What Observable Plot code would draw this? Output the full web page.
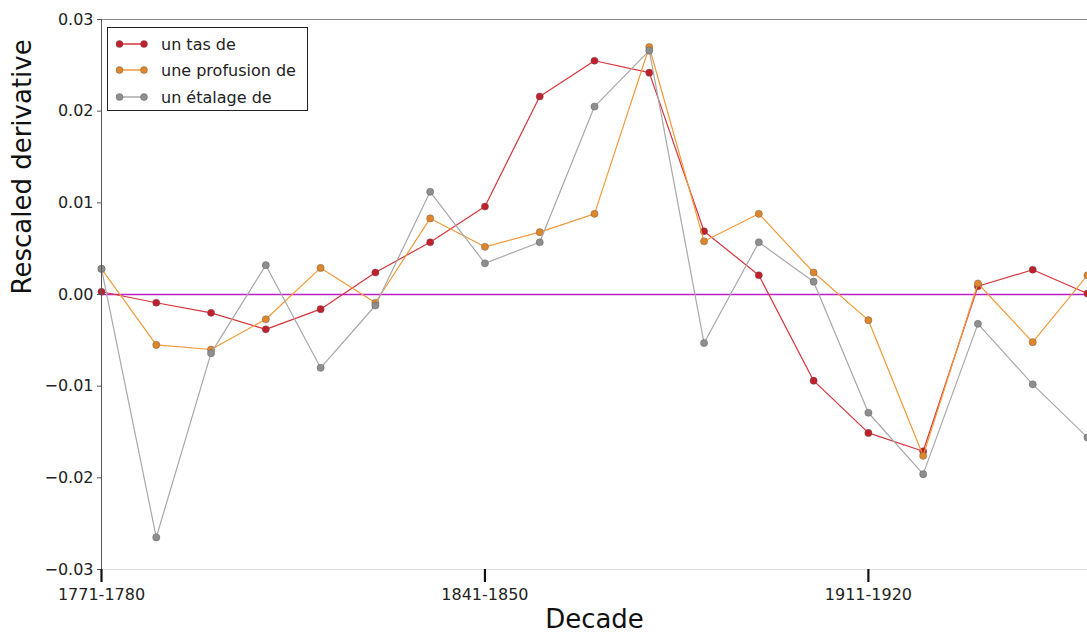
<!DOCTYPE html>
<html>
<head>
<meta charset="utf-8">
<script src="https://cdn.jsdelivr.net/npm/d3@7"></script>
<script src="https://cdn.jsdelivr.net/npm/@observablehq/plot@0.6"></script>
<style>
  html, body { margin: 0; padding: 0; background: #fff; }
  #wrap { position: relative; width: 1087px; height: 636px; overflow: hidden; }
  #legend { position: absolute; left: 107px; top: 27px; width: 199px; height: 82px;
            border: 1px solid #222; background: #fff; font-family: "DejaVu Sans"; font-size: 16px; color: #222; }
  #legend .row { position: absolute; left: 0; height: 20px; display: flex; align-items: center; }
  #legend svg { margin-left: 8px; }
  #legend span { margin-left: 13px; }
</style>
</head>
<body>
<div id="wrap"><div id="legend"></div></div>
<script>
const decades = ["1771-1780","1781-1790","1791-1800","1801-1810","1811-1820","1821-1830","1831-1840",
  "1841-1850","1851-1860","1861-1870","1871-1880","1881-1890","1891-1900","1901-1910","1911-1920",
  "1921-1930","1931-1940","1941-1950","1951-1960"];
const xTickLabels = ["1771-1780","1841-1850","1911-1920"];
const yTicks = [-0.03,-0.02,-0.01,0,0.01,0.02,0.03];

const seriesNames = ["un tas de","une profusion de","un étalage de"];
const lineColors = ["#d8343c","#f39a3a","#a8a8a8"];
const dotColors = ["#c0202c","#e0862a","#8e8e8e"];

const tasDe = [0.0003,-0.0009,-0.0020,-0.0038,-0.0016,0.0024,0.0057,0.0096,0.0216,0.0255,0.0242,
  0.0069,0.0021,-0.0094,-0.0151,-0.0171,0.0009,0.0027,0.0001];
const profusionDe = [0.0028,-0.0055,-0.0060,-0.0027,0.0029,-0.0009,0.0083,0.0052,0.0068,0.0088,0.0270,
  0.0058,0.0088,0.0024,-0.0028,-0.0176,0.0012,-0.0052,0.0021];
const etalageDe = [0.0028,-0.0265,-0.0064,0.0032,-0.0080,-0.0012,0.0112,0.0034,0.0057,0.0205,0.0266,
  -0.0053,0.0057,0.0014,-0.0129,-0.0196,-0.0032,-0.0098,-0.0156];

const allSeries = [tasDe, profusionDe, etalageDe];
const rows = [];
allSeries.forEach((vals, s) => vals.forEach((v, i) => rows.push({decade: decades[i], value: v, series: seriesNames[s]})));

const marks = [
  Plot.frame({anchor: "bottom", stroke: "#dddddd"}),
  Plot.frame({anchor: "top", stroke: "#8a8a8a"}),
  Plot.ruleY([0], {stroke: "#bb22c4", strokeWidth: 1.5}),
];
seriesNames.forEach((name, s) => {
  const d = rows.filter(r => r.series === name);
  marks.push(Plot.line(d, {x: "decade", y: "value", stroke: lineColors[s], strokeWidth: 1.2}));
  marks.push(Plot.dot(d, {x: "decade", y: "value", r: 3.6, fill: dotColors[s], stroke: "#555", strokeWidth: 0.4}));
});
marks.push(
  Plot.frame({anchor: "left", stroke: "#555"}),
  Plot.axisY({ticks: yTicks, tickFormat: d3.format(".2f"), tickSize: 4, tickPadding: 4, label: null,
    stroke: "#555", fontSize: 16}),
  Plot.axisX({ticks: xTickLabels, tickSize: 13, tickPadding: 6, label: null, stroke: "#111",
    strokeWidth: 2.2, fontSize: 16}),
  Plot.text(["Decade"], {frameAnchor: "bottom", dy: 58, fontSize: 26, fill: "#111"}),
  Plot.text(["Rescaled derivative"], {frameAnchor: "left", rotate: -90, dx: -79, fontSize: 26, fill: "#111"})
);

const chart = Plot.plot({
  width: 1087, height: 636,
  marginLeft: 101, marginRight: 0, marginTop: 19, marginBottom: 67,
  x: {type: "point", domain: decades, padding: 0, round: false},
  y: {domain: [-0.03, 0.03]},
  style: {fontFamily: "DejaVu Sans", fontSize: "16px", color: "#222", background: "white"},
  marks
});
document.getElementById("wrap").prepend(chart);

// legend
const legend = document.getElementById("legend");
const rowTops = [6, 32, 59];
seriesNames.forEach((name, s) => {
  const row = document.createElement("div");
  row.className = "row";
  row.style.top = rowTops[s] + "px";
  row.innerHTML = `<svg width="32" height="10"><line x1="3" y1="5" x2="28" y2="5" stroke="${lineColors[s]}" stroke-width="1.5"/>
    <circle cx="3.5" cy="5" r="3.5" fill="${dotColors[s]}" stroke="#555" stroke-width="0.4"/>
    <circle cx="28" cy="5" r="3.5" fill="${dotColors[s]}" stroke="#555" stroke-width="0.4"/></svg><span>${name}</span>`;
  legend.appendChild(row);
});
</script>
</body>
</html>
